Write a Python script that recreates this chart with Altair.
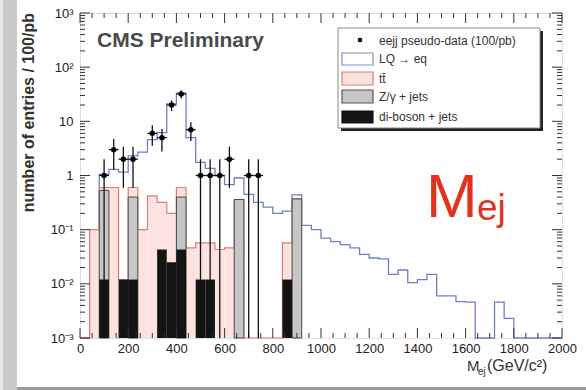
import altair as alt
import pandas as pd
import numpy as np

# ---------------- values ----------------
BIN_WIDTH = 40          # GeV per bin
N_BINS = 50
FLOOR = 1e-3            # bottom of the log axis

# visible top of each stacked layer per bin (0 = layer adds nothing there)
lq_total = [0, 0.1, 1.05, 1.3, 1.15, 2.3, 2.7, 4.6, 6.2, 21, 33, 5, 1.75, 1.35, 1.0,
            0.68, 0.9, 0.45, 0.32, 0.26, 0.2, 0.22, 0.44, 0.12, 0.1, 0.07, 0.06, 0.053,
            0.046, 0.035, 0.03, 0.029, 0.015, 0.018, 0.0105, 0.012, 0.015, 0.006, 0.006,
            0.0047, 0.0046, 0, 0, 0.0046, 0.0023, 0, 0, 0, 0, 0]
ttbar_top = [0, 0.1, 0.6, 0.6, 0, 0.6, 0.1, 0.42, 0.32, 0.2, 0.6, 0.046, 0.057, 0.057,
             0.043, 0.046, 0, 0, 0, 0, 0, 0.057, 0, 0, 0, 0, 0, 0, 0, 0, 0, 0, 0, 0, 0,
             0, 0, 0, 0, 0, 0, 0, 0, 0, 0, 0, 0, 0, 0, 0]
zjets_top = [0, 0, 0.53, 0, 0, 0.4, 0, 0, 0, 0, 0.4, 0, 0, 0, 0, 0, 0.36, 0, 0, 0, 0, 0,
             0.37, 0, 0, 0, 0, 0, 0, 0, 0, 0, 0, 0, 0, 0, 0, 0, 0, 0, 0, 0, 0, 0, 0, 0,
             0, 0, 0, 0]
diboson_top = [0, 0, 0.012, 0, 0.012, 0.012, 0, 0, 0.043, 0.025, 0.043, 0, 0.012, 0.012,
               0, 0, 0, 0, 0, 0, 0, 0.012, 0, 0, 0, 0, 0, 0, 0, 0, 0, 0, 0, 0, 0, 0, 0,
               0, 0, 0, 0, 0, 0, 0, 0, 0, 0, 0, 0, 0]

data_mass = [100, 140, 180, 220, 300, 340, 380, 420, 460, 500, 540, 580, 620, 700, 740]
data_count = [1, 3, 2, 2, 6, 5, 20, 32, 7, 1, 1, 1, 2, 1, 1]
data_err = [1.0, 1.73, 1.41, 1.41, 2.45, 2.24, 4.47, 5.66, 2.65, 1.0, 1.0, 1.0, 1.41, 1.0, 1.0]

x_label_values = [0, 200, 400, 600, 800, 1000, 1200, 1400, 1600, 1800, 2000]
y_label_values = [1e-3, 1e-2, 1e-1, 1, 10, 100, 1000]
legend_labels = ["eejj pseudo-data (100/pb)", "LQ \u2192 eq", "tt\u0304",
                 "Z/\u03b3 + jets", "di-boson + jets"]

# ---------------- geometry / style ----------------
W, H = 482, 325
FONT = "Liberation Sans"
xs = alt.Scale(domain=[0, 2000], nice=False, zero=False)
ys = alt.Scale(type="log", domain=[FLOOR, 1000], nice=False, clamp=True)
x_axis = alt.Axis(values=x_label_values, format="d", ticks=False, domain=False, grid=False,
                  labelPadding=4, labelFontSize=13, labelFont=FONT, labelColor="#222",
                  labelFlush=False, labelOverlap=False, labelAngle=0, title=None)
y_axis = alt.Axis(values=y_label_values, ticks=False, domain=False, grid=False,
                  labelPadding=7, labelFontSize=13, labelFont=FONT, labelColor="#222",
                  title=None,
                  labelExpr="datum.value >= 999 ? '10\u00b3' : datum.value >= 99 ? '10\u00b2' : "
                            "datum.value >= 9 ? '10' : datum.value >= 0.9 ? '1' : "
                            "datum.value >= 0.09 ? '10\u207b\u00b9' : datum.value >= 0.009 ? "
                            "'10\u207b\u00b2' : '10\u207b\u00b3'")


def X(f):
    return alt.X(f, type="quantitative", scale=xs, axis=x_axis)


def Y(f):
    return alt.Y(f, type="quantitative", scale=ys, axis=y_axis)


# ---------------- stacked histogram tops ----------------
lo = np.arange(N_BINS) * BIN_WIDTH
hi = lo + BIN_WIDTH
vv = np.maximum(np.array(diboson_top, float), FLOOR)
zz = np.maximum(np.array(zjets_top, float), vv)
tt = np.maximum(np.array(ttbar_top, float), zz)
lq = np.maximum(np.array(lq_total, float), tt)
hist = pd.DataFrame(dict(lo=lo, hi=hi, vv=vv, zz=zz, tt=tt, lq=lq, floor=FLOOR,
                         zraw=zjets_top, vraw=diboson_top))


def step_df(vals, n):
    xsv = list(lo[:n]) + [lo[n - 1] + BIN_WIDTH]
    ysv = list(vals[:n]) + [vals[n - 1]]
    return pd.DataFrame({"x": xsv, "y": ysv})


lq_line = alt.Chart(step_df(lq, N_BINS)).mark_line(
    interpolate="step-after", color="#6f7fc4", strokeWidth=1.3).encode(x=X("x"), y=Y("y"))
pink = alt.Chart(hist[hist.tt > FLOOR * 1.001]).mark_rect(color="#fce3df").encode(
    x=X("lo"), x2="hi", y=Y("tt"), y2="floor")
red_line = alt.Chart(step_df(tt, 23)).mark_line(
    interpolate="step-after", color="#e27a74", strokeWidth=1.2).encode(x=X("x"), y=Y("y"))
gray = alt.Chart(hist[hist.zraw > 0]).mark_rect(
    color="#c6c6c6", stroke="#474747", strokeWidth=1).encode(
    x=X("lo"), x2="hi", y=Y("zz"), y2="floor")
black = alt.Chart(hist[hist.vraw > 0]).mark_rect(color="#141414").encode(
    x=X("lo"), x2="hi", y=Y("vv"), y2="floor")

dd = pd.DataFrame(dict(mass=data_mass, count=data_count, err=data_err))
dd["elo"] = np.maximum(dd["count"] - dd["err"], FLOOR)
dd["ehi"] = dd["count"] + dd["err"]
dd["xl"] = dd["mass"] - BIN_WIDTH / 2
dd["xr"] = dd["mass"] + BIN_WIDTH / 2
err_v = alt.Chart(dd).mark_rule(color="#111", strokeWidth=1.3).encode(
    x=X("mass"), y=Y("elo"), y2="ehi")
err_h = alt.Chart(dd).mark_rule(color="#111", strokeWidth=1.3).encode(
    x=X("xl"), x2="xr", y=Y("count"))
pts = alt.Chart(dd).mark_circle(size=30, color="#000", opacity=1).encode(
    x=X("mass"), y=Y("count"))

# ---------------- inward ticks on all four sides ----------------
y_major = pd.DataFrame({"v": y_label_values})
y_minor = pd.DataFrame({"v": [k * 10.0 ** e for e in range(-3, 3) for k in range(2, 10)]})
x_major = pd.DataFrame({"v": x_label_values})
x_minor = pd.DataFrame({"v": [v for v in range(0, 2001, 50) if v % 200]})
TC = "#333"
ticks = []
for df, ln in ((y_major, 10), (y_minor, 5)):
    ticks.append(alt.Chart(df).mark_rule(color=TC, strokeWidth=1).encode(
        y=Y("v"), x=alt.value(0), x2=alt.value(ln)))
    ticks.append(alt.Chart(df).mark_rule(color=TC, strokeWidth=1).encode(
        y=Y("v"), x=alt.value(W), x2=alt.value(W - ln)))
for df, ln in ((x_major, 10), (x_minor, 5)):
    ticks.append(alt.Chart(df).mark_rule(color=TC, strokeWidth=1).encode(
        x=X("v"), y=alt.value(H), y2=alt.value(H - ln)))
    ticks.append(alt.Chart(df).mark_rule(color=TC, strokeWidth=1).encode(
        x=X("v"), y=alt.value(0), y2=alt.value(ln)))

one = pd.DataFrame({"a": [0]})


def text(t, x, y, size, color="#333", weight="normal", align="left", angle=0,
         baseline="alphabetic"):
    kw = dict(fontSize=size, color=color, fontWeight=weight, align=align,
              baseline=baseline, font=FONT)
    if angle:
        kw["angle"] = angle
    return alt.Chart(pd.DataFrame({"t": [t]})).mark_text(**kw).encode(
        text="t:N", x=alt.value(x), y=alt.value(y))


def box(x1, x2, y1, y2, fill, stroke=None, sw=1):
    kw = dict(fill=fill)
    if stroke:
        kw.update(stroke=stroke, strokeWidth=sw)
    return alt.Chart(one).mark_rect(**kw).encode(
        x=alt.value(x1), x2=alt.value(x2), y=alt.value(y1), y2=alt.value(y2))


# ---------------- decorations ----------------
deco = [
    box(-80, -77, -13, 377, "#e6e6e6"),
    box(-77, -63, -13, 377, "#c9c9c9"),
    box(-63, 506, 374, 377, "#9a9a9a"),
    text("CMS Preliminary", 17, 34, 21, color="#4a4a4a", weight="bold"),
    text("number of entries / 100/pb", -51, 0, 16, color="#333", weight="bold",
         align="right", angle=270, baseline="middle"),
    text("M", 387, 358, 15, color="#333"),
    text("ej", 398, 362, 10, color="#333"),
    text("(GeV/c\u00b2)", 407, 358, 16, color="#333"),
    text("M", 346, 204, 62, color="#e2321e"),
    text("ej", 397, 207, 37, color="#e2321e"),
]

# legend (box with shadow)
LX1, LX2, LY1, LY2 = 258, 460, 15, 115
leg = [box(LX1 + 3, LX2 + 3, LY1 + 3, LY2 + 3, "#222"),
       box(LX1, LX2, LY1, LY2, "#ffffff", "#888", 1)]
leg.append(alt.Chart(one).mark_point(filled=True, shape="circle", size=22, color="#000",
                                      opacity=1).encode(x=alt.value(280), y=alt.value(27)))
sw_rows = [(40, 52, "#ffffff", "#7f8fd0"), (59, 72, "#fce3df", "#e27a74"),
           (77, 90, "#c6c6c6", "#555"), (98, 110, "#141414", "#141414")]
for (y1, y2, f, s) in sw_rows:
    leg.append(box(262, 293, y1, y2, f, s, 1.2))
for lab, yy in zip(legend_labels, [28, 46, 66, 84, 104]):
    leg.append(text(lab, 299, yy, 12, color="#333", baseline="middle"))

chart = alt.layer(lq_line, pink, red_line, gray, black, *ticks, err_v, err_h, pts,
                  *deco, *leg).properties(
    width=W, height=H,
    padding={"left": 80, "top": 13, "right": 24, "bottom": 52},
    autosize=alt.AutoSizeParams(type="none"),
).configure_view(stroke="#222", strokeWidth=1.2).configure(background="white")

chart.save("out.html", embed_options={"renderer": "svg", "actions": False})
